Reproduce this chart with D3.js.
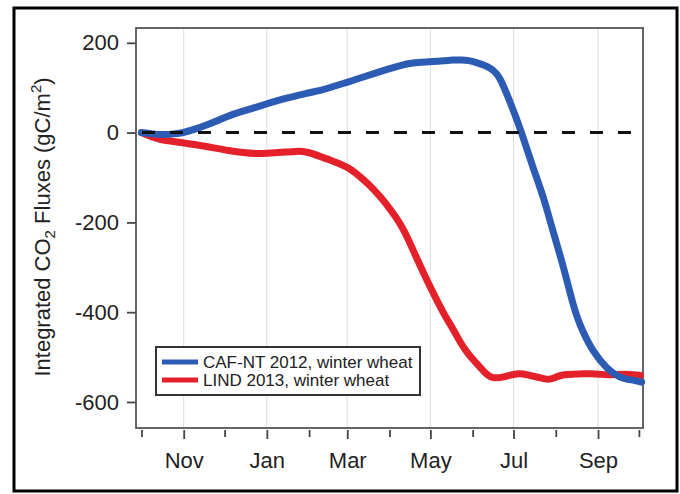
<!DOCTYPE html>
<html>
<head>
<meta charset="utf-8">
<script src="https://cdn.jsdelivr.net/npm/d3@7"></script>
<style>
  body { margin: 0; background: #fff; }
  svg { display: block; font-family: "Liberation Sans", Arial, Helvetica, sans-serif; }
</style>
</head>
<body>
<div id="chart"></div>
<script>
const width = 680;
const height = 494;

// days since Oct 1 of the season
const cafDays = [0, 8, 16, 24, 31, 40, 48, 57, 65, 77, 89, 98, 107, 121, 131, 142, 153, 164, 175, 186, 197, 206, 214, 222, 229, 235, 240, 246, 251, 256, 261, 264, 267, 273, 279, 287, 295, 301, 309, 317, 322, 331, 342, 351, 357, 362, 367];
const cafFlux = [0, -3, -5, -3, 0, 8, 17, 28, 39, 50, 61, 70, 77, 88, 93, 104, 114, 125, 136, 146, 155, 157, 158, 160, 162, 162, 161, 156, 151, 144, 131, 115, 94, 49, 0, -76, -143, -210, -291, -388, -432, -488, -528, -546, -550, -552, -556];

const lindDays = [0, 7, 14, 22, 31, 42, 53, 64, 75, 84, 92, 103, 114, 122, 131, 141, 151, 157, 163, 169, 175, 182, 188, 193, 197, 202, 207, 212, 217, 223, 229, 234, 239, 244, 248, 252, 256, 260, 265, 270, 275, 280, 285, 291, 296, 300, 305, 310, 317, 324, 330, 336, 342, 348, 355, 361, 366];
const lindFlux = [0, -9, -16, -19, -23, -28, -34, -40, -45, -47, -46, -44, -41, -43, -53, -64, -76, -90, -105, -122, -142, -168, -194, -220, -246, -280, -313, -345, -375, -410, -439, -468, -490, -508, -521, -535, -545, -547, -545, -541, -537, -537, -541, -545, -549, -550, -543, -539, -538, -537, -537, -538, -540, -539, -538, -539, -541];

const yTicks = [200, 0, -200, -400, -600];
const seriesNames = ["CAF-NT 2012, winter wheat", "LIND 2013, winter wheat"];
const seriesColors = ["#2c5bb3", "#e4202a"];

const seasonStart = new Date(2012, 9, 1);
const toDate = d => d3.timeDay.offset(seasonStart, d);

const margin = { left: 136, right: 37, top: 28, bottom: 66 };

const svg = d3.select("#chart")
  .append("svg")
  .attr("width", width)
  .attr("height", height);

// outer frame
svg.append("rect")
  .attr("x", 14).attr("y", 8)
  .attr("width", 663).attr("height", 483)
  .attr("fill", "none")
  .attr("stroke", "#000")
  .attr("stroke-width", 3);

const x = d3.scaleTime()
  .domain([toDate(-4), toDate(368)])
  .range([margin.left, width - margin.right]);

const y = d3.scaleLinear()
  .domain([-658, 233])
  .range([height - margin.bottom, margin.top]);

const months = d3.timeMonth.range(toDate(0), toDate(366));
const isMajor = d => d.getMonth() % 2 === 0; // Nov, Jan, Mar ...

// grid lines at the labelled months
svg.append("g")
  .selectAll("line")
  .data(months.filter(isMajor))
  .join("line")
  .attr("x1", d => x(d)).attr("x2", d => x(d))
  .attr("y1", margin.top).attr("y2", height - margin.bottom)
  .attr("stroke", "#dedede")
  .attr("stroke-width", 1);

// === Axes ===
const xAxis = svg.append("g")
  .attr("transform", `translate(0,${height - margin.bottom})`)
  .call(d3.axisBottom(x)
    .tickValues(months)
    .tickSize(10)
    .tickPadding(14)
    .tickFormat(d => isMajor(d) ? d3.timeFormat("%b")(d) : ""));

xAxis.selectAll(".tick line")
  .attr("y1", 2)
  .attr("y2", d => isMajor(d) ? 11 : 9);

const yAxis = svg.append("g")
  .attr("transform", `translate(${margin.left},0)`)
  .call(d3.axisLeft(y)
    .tickValues(yTicks)
    .tickSize(9)
    .tickPadding(8)
    .tickFormat(d => String(d)));

[xAxis, yAxis].forEach(g => {
  g.select(".domain").remove();
  g.selectAll(".tick line").attr("stroke", "#444").attr("stroke-width", 1.8);
  g.selectAll(".tick text")
    .attr("fill", "#222")
    .style("font-size", "22px");
});

// plot frame
svg.append("rect")
  .attr("x", margin.left).attr("y", margin.top)
  .attr("width", width - margin.left - margin.right)
  .attr("height", height - margin.top - margin.bottom)
  .attr("fill", "none")
  .attr("stroke", "#555")
  .attr("stroke-width", 1.8);

// === Lines ===
const line = d3.line()
  .x(d => x(toDate(d[0])))
  .y(d => y(d[1]))
  .curve(d3.curveBasis);

const series = [
  d3.zip(cafDays, cafFlux),
  d3.zip(lindDays, lindFlux)
];

// red drawn first so blue sits over it at the end
[1, 0].forEach(i => {
  svg.append("path")
    .datum(series[i])
    .attr("fill", "none")
    .attr("stroke", seriesColors[i])
    .attr("stroke-width", 7)
    .attr("stroke-linejoin", "round")
    .attr("stroke-linecap", "round")
    .attr("d", line);
});

// zero line, on top of the curves
svg.append("line")
  .attr("x1", margin.left).attr("x2", width - margin.right)
  .attr("y1", y(0)).attr("y2", y(0))
  .attr("stroke", "#111")
  .attr("stroke-width", 3)
  .attr("stroke-dasharray", "13,15")
  .attr("stroke-dashoffset", 22);

// === Legend ===
const legend = svg.append("g").attr("transform", "translate(156,347)");
legend.append("rect")
  .attr("width", 264).attr("height", 48)
  .attr("fill", "#fff")
  .attr("stroke", "#333")
  .attr("stroke-width", 2);

seriesNames.forEach((name, i) => {
  const row = legend.append("g").attr("transform", `translate(0,${15 + i * 18})`);
  row.append("line")
    .attr("x1", 6).attr("x2", 42)
    .attr("stroke", seriesColors[i])
    .attr("stroke-width", 5);
  row.append("text")
    .attr("x", 47).attr("y", 6)
    .attr("fill", "#222")
    .style("font-size", "17px")
    .text(name);
});

// === Y title ===
const title = svg.append("text")
  .attr("transform", "translate(50,227) rotate(-90)")
  .attr("text-anchor", "middle")
  .attr("fill", "#222")
  .style("font-size", "22px");
title.append("tspan").text("Integrated CO");
title.append("tspan").attr("dy", 5).style("font-size", "15px").text("2");
title.append("tspan").attr("dy", -5).text(" Fluxes (gC/m");
title.append("tspan").attr("dy", -9).style("font-size", "15px").text("2");
title.append("tspan").attr("dy", 9).text(")");
</script>
</body>
</html>
